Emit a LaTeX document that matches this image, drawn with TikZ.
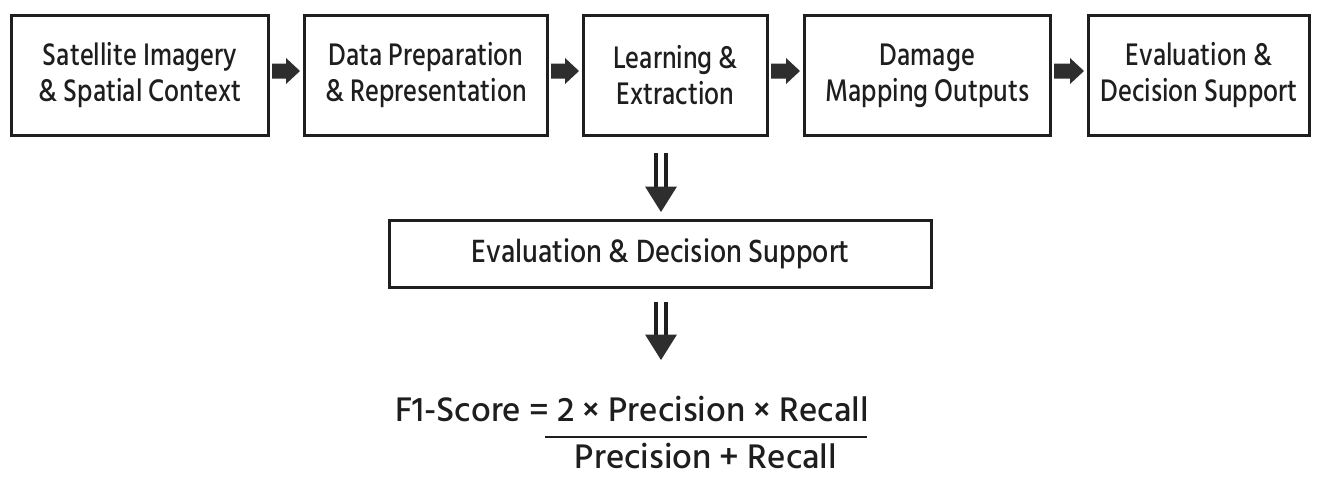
\documentclass[tikz,border=0pt]{standalone}
\usepackage{fontspec}
\setmainfont{Hind Siliguri}[UprightFont={* Medium}, FakeStretch=0.87]
\newfontfamily\stagefont{Hind Siliguri}[UprightFont={* Medium}, FakeStretch=0.83]
\newfontfamily\formulafont{Hind Siliguri}[UprightFont={* Medium}]
\usetikzlibrary{calc}
\definecolor{ink}{HTML}{1E1E1E}
\definecolor{arrowfill}{HTML}{2E2E2E}

% filled right-pointing block arrow from tail #1 to tip #2 (same height)
\newcommand\rblockarrow[2]{%
  \fill[arrowfill] ($(#1)+(0,-7.5)$) -- ($(#2)+(-14,-7.5)$) -- ($(#2)+(-14,-13)$)
    -- (#2) -- ($(#2)+(-14,13)$) -- ($(#2)+(-14,7.5)$) -- ($(#1)+(0,7.5)$) -- cycle;}
% double-shafted downward arrow from #1 to tip #2
\newcommand\dblarrowdown[2]{%
  \draw[ink,line width=4pt] ($(#1)+(-5,0)$) -- ($(#2)+(-5,-25)$)
                            ($(#1)+(5,0)$) -- ($(#2)+(5,-25)$);
  \fill[arrowfill] ($(#2)+(-16,-25.5)$) -- ($(#2)+(16,-25.5)$) -- (#2) -- cycle;}

\tikzset{
  stagebox/.style={draw=ink, line width=3pt, fill=white, text=ink, align=center,
    inner sep=0pt, minimum height=120pt,
    font=\stagefont\fontsize{32}{36}\selectfont},
  widebox/.style={stagebox, minimum height=67pt, font=\rmfamily\fontsize{33}{36}\selectfont},
  formula/.style={text=ink, inner sep=0pt, text depth=0pt,
    font=\formulafont\fontsize{35}{40}\selectfont}
}

\begin{document}
\begin{tikzpicture}[x=1pt,y=-1pt]
\useasboundingbox[fill=white] (0,0) rectangle (1320,477);

% pipeline stages
\node[stagebox, minimum width=257pt] (b1) at (140,75.5) {Satellite Imagery\\\& Spatial Context};
\node[stagebox, minimum width=243pt] (b2) at (426,75.5) {Data Preparation\\\& Representation};
\node[stagebox, minimum width=184pt] (b3) at (675.5,75.5) {Learning \&\\Extraction};
\node[stagebox, minimum width=246pt] (b4) at (927.5,75.5) {Damage\\Mapping Outputs};
\node[stagebox, minimum width=221pt] (b5) at (1199,75.5) {Evaluation \&\\Decision Support};

% evaluation box
\node[widebox, minimum width=542pt] (mid) at (660.5,254) {Evaluation \& Decision Support};

% connectors between stages
\foreach \a/\b in {b1/b2, b2/b3, b3/b4, b4/b5}{
  \coordinate (\a-out) at ([xshift=2pt,yshift=4.5pt]\a.east);
  \coordinate (\b-in) at ([xshift=-3pt,yshift=4.5pt]\b.west);
  \rblockarrow{\a-out}{\b-in}
}

% downward connectors
\coordinate (d1s) at ($(b3.south -| mid.north)+(0.5,16)$);
\coordinate (d1t) at ($(mid.north)+(0.5,-7)$);
\dblarrowdown{d1s}{d1t}

% F1 formula
\node[formula, anchor=base west] (fnum) at (395,421) {F1-Score = 2 × Precision × Recall};
\coordinate (barL) at (545,437);
\coordinate (barR) at (867,437);
\draw[ink, line width=2.5pt] (barL) -- (barR);
\node[formula, anchor=base] (fden) at (706,468) {Precision + Recall};

\coordinate (d2s) at ($(mid.south)+(0.5,13)$);
\coordinate (d2t) at ($(mid.south)+(0.5,71)$);
\dblarrowdown{d2s}{d2t}
\end{tikzpicture}
\end{document}
